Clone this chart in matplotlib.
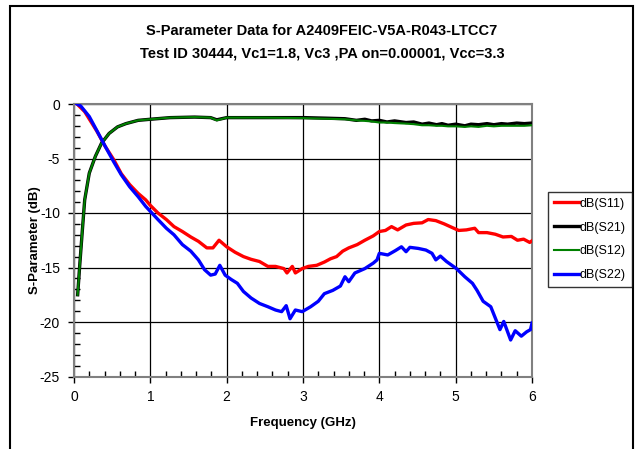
import matplotlib
matplotlib.use("Agg")
import matplotlib.pyplot as plt
from matplotlib.ticker import MultipleLocator
from matplotlib.patches import Rectangle

plt.rcParams['font.family'] = ['Liberation Sans', 'DejaVu Sans']
plt.rcParams['axes.unicode_minus'] = False

title_lines = ["S-Parameter Data for A2409FEIC-V5A-R043-LTCC7",
               "Test ID 30444, Vc1=1.8, Vc3 ,PA on=0.00001, Vcc=3.3"]
x_label = "Frequency (GHz)"
y_label = "S-Parameter (dB)"
series_names = ["dB(S11)", "dB(S21)", "dB(S12)", "dB(S22)"]

# S11 (red)
f_s11 = [0.04, 0.14, 0.30, 0.41, 0.52, 0.62, 0.73, 0.84, 0.94, 1.00, 1.10, 1.21, 1.31, 1.42,
         1.53, 1.63, 1.74, 1.82, 1.90, 2.00, 2.11, 2.22, 2.32, 2.43, 2.54, 2.64, 2.75, 2.79,
         2.86, 2.90, 2.99, 3.07, 3.18, 3.28, 3.36, 3.44, 3.52, 3.60, 3.71, 3.81, 3.92, 4.00,
         4.08, 4.16, 4.24, 4.35, 4.45, 4.56, 4.64, 4.74, 4.85, 4.96, 5.04, 5.14, 5.25, 5.30,
         5.41, 5.52, 5.62, 5.73, 5.81, 5.89, 5.97, 6.00]
s11 = [0.0, -0.7, -2.5, -3.9, -5.1, -6.4, -7.4, -8.2, -8.8, -9.3, -10.0, -10.6, -11.25, -11.7,
       -12.2, -12.6, -13.2, -13.2, -12.5, -13.1, -13.6, -14.0, -14.25, -14.45, -14.9, -14.9, -15.1, -15.5,
       -14.9, -15.5, -15.1, -14.9, -14.8, -14.5, -14.2, -14.0, -13.5, -13.2, -12.9, -12.5, -12.1, -11.7,
       -11.6, -11.25, -11.55, -11.1, -10.95, -10.9, -10.6, -10.7, -11.0, -11.35, -11.6, -11.55, -11.4, -11.8,
       -11.8, -11.95, -12.2, -12.15, -12.5, -12.4, -12.7, -12.55]

# S21 (black)
f_s21 = [0.048, 0.074, 0.106, 0.14, 0.20, 0.28, 0.36, 0.46, 0.57, 0.68, 0.84, 1.00, 1.26, 1.58,
         1.79, 1.87, 2.00, 2.48, 3.02, 3.30, 3.55, 3.70, 3.81, 3.90, 4.00, 4.10, 4.20, 4.35,
         4.45, 4.56, 4.65, 4.75, 4.82, 4.90, 5.00, 5.12, 5.20, 5.30, 5.41, 5.50, 5.60, 5.68,
         5.80, 5.90, 6.00]
s21 = [-17.5, -14.9, -11.9, -8.8, -6.35, -4.8, -3.6, -2.7, -2.1, -1.8, -1.5, -1.4, -1.25, -1.2,
       -1.25, -1.45, -1.25, -1.25, -1.25, -1.3, -1.35, -1.5, -1.4, -1.55, -1.5, -1.65, -1.55, -1.7,
       -1.65, -1.85, -1.75, -1.9, -1.8, -1.95, -1.85, -2.0, -1.85, -1.9, -1.8, -1.9, -1.8, -1.85,
       -1.75, -1.8, -1.75]

# S12 (green)
f_s12 = [0.048, 0.074, 0.106, 0.14, 0.20, 0.28, 0.36, 0.46, 0.57, 0.68, 0.84, 1.00, 1.26, 1.58,
         1.79, 1.87, 2.00, 2.48, 3.02, 3.30, 3.55, 3.70, 3.81, 3.90, 4.00, 4.10, 4.20, 4.35,
         4.45, 4.56, 4.65, 4.75, 4.82, 4.90, 5.00, 5.12, 5.20, 5.30, 5.41, 5.50, 5.60, 5.68,
         5.80, 5.90, 6.00]
s12 = [-17.5, -14.9, -11.9, -8.8, -6.35, -4.8, -3.6, -2.7, -2.1, -1.8, -1.5, -1.4, -1.25, -1.2,
       -1.25, -1.5, -1.25, -1.25, -1.3, -1.35, -1.4, -1.5, -1.55, -1.6, -1.7, -1.7, -1.75, -1.8,
       -1.85, -1.95, -1.95, -2.0, -2.0, -2.05, -2.05, -2.1, -2.05, -2.1, -2.0, -2.05, -2.0, -2.0,
       -2.0, -2.0, -1.95]

# S22 (blue)
f_s22 = [0.04, 0.09, 0.20, 0.30, 0.41, 0.52, 0.62, 0.73, 0.84, 0.94, 1.02, 1.10, 1.21, 1.31,
         1.42, 1.53, 1.63, 1.71, 1.79, 1.85, 1.91, 1.98, 2.06, 2.14, 2.22, 2.32, 2.43, 2.54,
         2.64, 2.72, 2.78, 2.83, 2.90, 2.99, 3.10, 3.20, 3.28, 3.39, 3.49, 3.55, 3.60, 3.68,
         3.81, 3.92, 3.97, 4.00, 4.11, 4.21, 4.29, 4.35, 4.40, 4.51, 4.61, 4.69, 4.74, 4.80,
         4.88, 5.01, 5.12, 5.22, 5.28, 5.36, 5.46, 5.52, 5.58, 5.63, 5.72, 5.78, 5.86, 5.93,
         5.98, 6.00]
s22 = [0.0, -0.2, -1.15, -2.45, -3.9, -5.3, -6.5, -7.6, -8.5, -9.4, -10.0, -10.6, -11.4, -12.0,
       -12.9, -13.5, -14.3, -15.2, -15.7, -15.6, -14.8, -15.7, -16.1, -16.45, -17.2, -17.8, -18.3, -18.6,
       -18.9, -19.05, -18.5, -19.7, -18.9, -19.05, -18.6, -18.1, -17.4, -17.1, -16.7, -15.85, -16.3, -15.5,
       -15.1, -14.6, -14.3, -13.7, -13.85, -13.45, -13.1, -13.55, -13.15, -13.25, -13.4, -13.7, -14.3, -13.95,
       -14.45, -15.1, -15.85, -16.45, -17.1, -18.1, -18.6, -19.65, -20.7, -19.95, -21.65, -20.8, -21.3, -20.9,
       -20.7, -20.1]

x_ticks = [0, 1, 2, 3, 4, 5, 6]
y_ticks = [0, -5, -10, -15, -20, -25]

W, H = 636, 449
fig = plt.figure(figsize=(W / 100, H / 100), dpi=100)
ax = fig.add_axes([74 / W, 1 - 376.5 / H, (532 - 74) / W, (376.5 - 104) / H])

ax.plot(f_s11, s11, color='#ff0000', lw=2.4, label=series_names[0], zorder=3)
ax.plot(f_s21, s21, color='#000000', lw=2.4, label=series_names[1], zorder=3)
ax.plot(f_s12, s12, color='#008000', lw=1.5, label=series_names[2], zorder=4)
ax.plot(f_s22, s22, color='#0000ff', lw=2.4, label=series_names[3], zorder=5)

ax.set_xlim(0, 6)
ax.set_ylim(-25, 0)
ax.set_xticks(x_ticks)
ax.set_yticks(y_ticks)
ax.xaxis.set_minor_locator(MultipleLocator(0.2))
ax.yaxis.set_minor_locator(MultipleLocator(1))
ax.tick_params(which='major', direction='out', length=4, width=1, color='#000000',
               labelsize=10, pad=6)
ax.tick_params(which='minor', direction='in', length=4, width=1, color='#000000')
ax.grid(True, which='major', color='#000000', lw=0.9)
ax.set_axisbelow(True)
for s in ax.spines.values():
    s.set_color('#808080')
    s.set_linewidth(1.5)

ax.set_xlabel(x_label, fontsize=9.5, fontweight='bold', labelpad=9)
ax.set_ylabel(y_label, fontsize=9.5, fontweight='bold')
ax.yaxis.set_label_coords(-0.072, 0.5)

fig.text(0.506, 1 - 31 / H, title_lines[0], ha='center', va='center',
         fontsize=10.5, fontweight='bold')
fig.text(0.506, 1 - 54 / H, title_lines[1], ha='center', va='center',
         fontsize=10.5, fontweight='bold')

leg = fig.legend(loc='upper left', bbox_to_anchor=(548 / W, 1 - 192 / H),
                 bbox_transform=fig.transFigure, borderaxespad=0, fontsize=9,
                 frameon=True, fancybox=False, shadow=False, handlelength=2.0,
                 handletextpad=0.1, labelspacing=0.95, borderpad=0.45)
leg.get_frame().set_edgecolor('#000000')
leg.get_frame().set_linewidth(1.0)

fig.patches.append(Rectangle((10 / W, -0.02), (633 - 10) / W, 1.02 - 5.5 / H,
                             transform=fig.transFigure, fill=False,
                             edgecolor='#000000', lw=1.5))

fig.savefig('out.png', dpi=100)
